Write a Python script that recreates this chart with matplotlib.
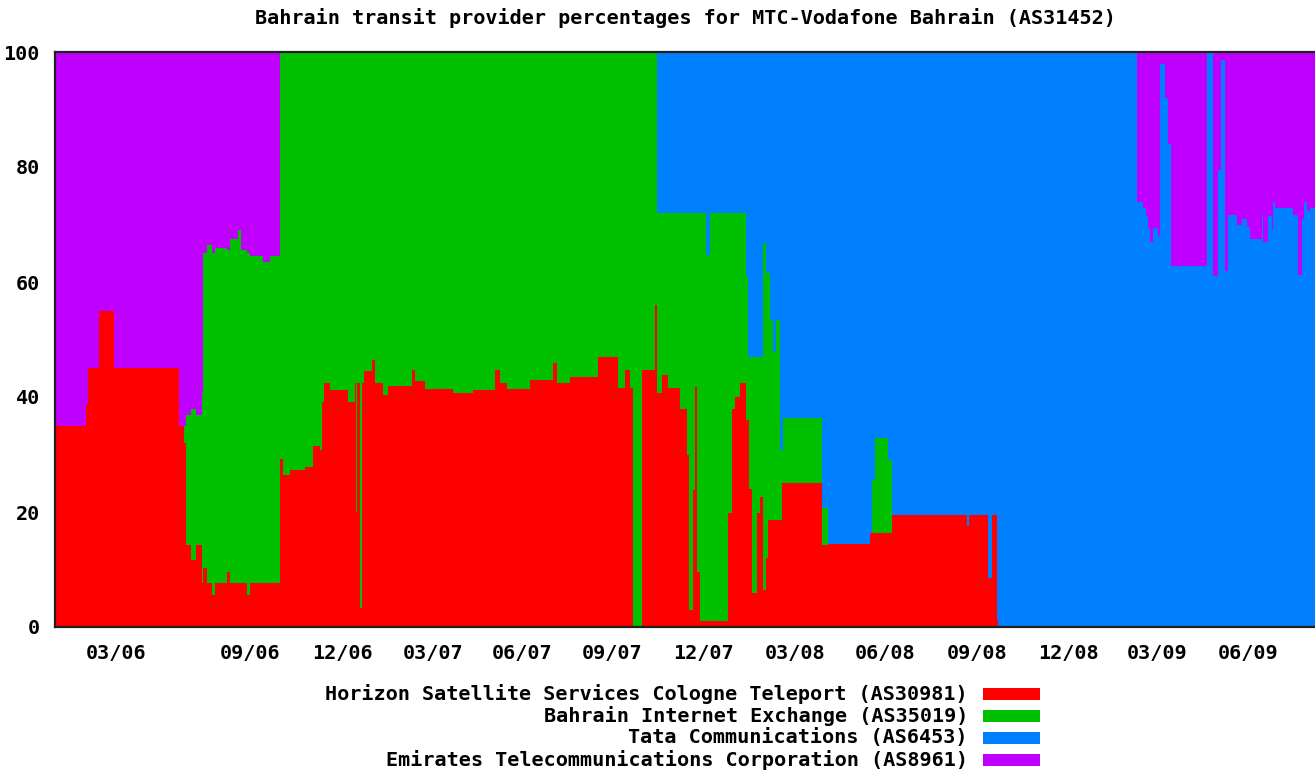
import numpy as np
import matplotlib
matplotlib.use("Agg")
import matplotlib.pyplot as plt
from matplotlib.patches import Rectangle

# start of each step, in days since the left edge of the axis
day = [0, 31, 33, 44, 59, 124, 129, 131, 136, 141,
       147, 148, 152, 157, 160, 172, 175, 183, 186, 192,
       195, 208, 215, 225, 228, 235, 250, 258, 265, 267,
       269, 275, 293, 300, 301, 302, 305, 307, 309, 317,
       320, 328, 333, 357, 360, 370, 398, 418, 440, 445,
       452, 475, 498, 502, 515, 543, 563, 570, 575, 578,
       587, 600, 602, 607, 613, 625, 632, 634, 638, 640,
       642, 645, 651, 655, 673, 677, 680, 685, 691, 693,
       694, 697, 702, 705, 708, 711, 713, 715, 718, 721,
       725, 727, 728, 767, 773, 815, 817, 820, 833, 837,
       912, 914, 933, 937, 942, 943, 1082, 1088, 1091, 1093,
       1095, 1098, 1103, 1105, 1110, 1113, 1116, 1152, 1158, 1163,
       1166, 1170, 1173, 1182, 1187, 1192, 1195, 1207, 1208, 1213,
       1217, 1218, 1220, 1238, 1243, 1247, 1249, 1252, 1255]
day_end = 1260

horizon = [35, 38.8, 45, 55, 45, 35, 32, 14.3, 11.7, 14.3,
           7.6, 10.2, 7.6, 5.6, 7.6, 9.6, 7.6, 7.6, 7.6, 5.6,
           7.6, 7.6, 7.6, 29.2, 26.5, 27.3, 27.9, 31.4, 30.8, 39.2,
           42.4, 41.2, 39.2, 42.4, 20, 42.4, 3.3, 42.4, 44.5, 46.4,
           42.4, 40.3, 42, 44.7, 42.8, 41.4, 40.7, 41.2, 44.7, 42.4,
           41.4, 43, 46, 42.4, 43.5, 47, 41.5, 44.7, 41.5, 0,
           44.7, 56, 40.7, 43.8, 41.5, 38, 30, 3, 23.8, 41.7,
           9.6, 1, 1, 1, 19.8, 38, 40, 42.4, 36, 36,
           24, 6, 19.8, 22.6, 6.4, 12, 18.6, 18.6, 18.6, 18.6,
           18.6, 25, 25, 14.3, 14.4, 16.3, 16.3, 16.3, 16.3, 19.5,
           17.6, 19.5, 8.5, 19.5, 1.2, 0, 0, 0, 0, 0,
           0, 0, 0, 0, 0, 0, 0, 0, 0, 0,
           0, 0, 0, 0, 0, 0, 0, 0, 0, 0,
           0, 0, 0, 0, 0, 0, 0, 0, 0]

bix = [0, 0, 0, 0, 0, 0, 3, 22.5, 26.3, 22.5,
       33.1, 54.8, 58.9, 59.4, 58.4, 55.9, 59.9, 61.4, 57.9, 59.4,
       56.9, 55.9, 56.9, 70.8, 73.5, 72.7, 72.1, 68.6, 69.2, 60.8,
       57.6, 58.8, 60.8, 57.6, 80, 57.6, 96.7, 57.6, 55.5, 53.6,
       57.6, 59.7, 58, 55.3, 57.2, 58.6, 59.3, 58.8, 55.3, 57.6,
       58.6, 57, 54, 57.6, 56.5, 53, 58.5, 55.3, 58.5, 100,
       55.3, 44, 31.3, 28.2, 30.5, 34, 42, 69, 48.2, 30.3,
       62.4, 71, 63.7, 71, 52.2, 34, 32, 29.6, 25, 11,
       23, 41, 27.2, 24.4, 60.3, 49.5, 42.9, 34.8, 29.3, 34.8,
       12.2, 5.8, 11.3, 6.4, 0, 0, 9.2, 16.5, 12.7, 0,
       0, 0, 0, 0, 0, 0, 0, 0, 0, 0,
       0, 0, 0, 0, 0, 0, 0, 0, 0, 0,
       0, 0, 0, 0, 0, 0, 0, 0, 0, 0,
       0, 0, 0, 0, 0, 0, 0, 0, 0]

tata = [0, 0, 0, 0, 0, 0, 0, 0, 0, 0,
        0, 0, 0, 0, 0, 0, 0, 0, 0, 0,
        0, 0, 0, 0, 0, 0, 0, 0, 0, 0,
        0, 0, 0, 0, 0, 0, 0, 0, 0, 0,
        0, 0, 0, 0, 0, 0, 0, 0, 0, 0,
        0, 0, 0, 0, 0, 0, 0, 0, 0, 0,
        0, 0, 28, 28, 28, 28, 28, 28, 28, 28,
        28, 28, 35.3, 28, 28, 28, 28, 28, 39, 53,
        53, 53, 53, 53, 33.3, 38.5, 38.5, 46.6, 52.1, 46.6,
        69.2, 69.2, 63.7, 79.3, 85.6, 83.7, 74.5, 67.2, 71, 80.5,
        82.4, 80.5, 91.5, 80.5, 98.8, 100, 74, 72.8, 71.4, 69.4,
        67, 69.4, 68, 98, 92, 84, 62.7, 100, 61, 79.5,
        98.6, 62, 71.7, 70, 71, 69.6, 67.5, 71.7, 67, 71.4,
        69, 74, 72.8, 71.7, 61.2, 71, 74, 72.3, 72.8]

emirates = [65, 61.2, 55, 45, 55, 65, 65, 63.2, 62, 63.2,
            59.3, 35, 33.5, 35, 34, 34.5, 32.5, 31, 34.5, 35,
            35.5, 36.5, 35.5, 0, 0, 0, 0, 0, 0, 0,
            0, 0, 0, 0, 0, 0, 0, 0, 0, 0,
            0, 0, 0, 0, 0, 0, 0, 0, 0, 0,
            0, 0, 0, 0, 0, 0, 0, 0, 0, 0,
            0, 0, 0, 0, 0, 0, 0, 0, 0, 0,
            0, 0, 0, 0, 0, 0, 0, 0, 0, 0,
            0, 0, 0, 0, 0, 0, 0, 0, 0, 0,
            0, 0, 0, 0, 0, 0, 0, 0, 0, 0,
            0, 0, 0, 0, 0, 0, 26, 27.2, 28.6, 30.6,
            33, 30.6, 32, 2, 8, 16, 37.3, 0, 39, 20.5,
            1.4, 38, 28.3, 30, 29, 30.4, 32.5, 28.3, 33, 28.6,
            31, 26, 27.2, 28.3, 38.8, 29, 26, 27.7, 27.2]

providers = ["Horizon Satellite Services Cologne Teleport (AS30981)",
             "Bahrain Internet Exchange (AS35019)",
             "Tata Communications (AS6453)",
             "Emirates Telecommunications Corporation (AS8961)"]
colors = ["#ff0000", "#00c000", "#0080ff", "#c000ff"]

tick_days = [61, 195, 287, 378, 467, 557, 648, 740, 830, 922, 1013, 1102, 1193]
tick_labels = ["03/06", "09/06", "12/06", "03/07", "06/07", "09/07", "12/07",
               "03/08", "06/08", "09/08", "12/08", "03/09", "06/09"]

font = dict(family="DejaVu Sans Mono", weight="bold", size=14.5)

fig = plt.figure(figsize=(13.15, 7.73), dpi=100)
ax = fig.add_axes([55 / 1315, 146 / 773, 1260 / 1315, 575 / 773])

edges = np.array(day + [day_end])
base = np.zeros(len(day))
for vals, c in zip([horizon, bix, tata, emirates], colors):
    top = base + np.array(vals)
    ax.stairs(top, edges, baseline=base, fill=True, color=c, lw=0, antialiased=False)
    base = top

ax.set_xlim(0, day_end)
ax.set_ylim(0, 100)
ax.set_yticks(range(0, 101, 20))
ax.set_xticks(tick_days)
ax.set_xticklabels(tick_labels, fontdict=font)
ax.set_yticklabels([str(v) for v in range(0, 101, 20)], fontdict=font)
ax.tick_params(length=0)
ax.tick_params(axis="y", pad=11)
ax.tick_params(axis="x", pad=12)
ax.spines["right"].set_visible(False)
for s in ["left", "top", "bottom"]:
    ax.spines[s].set_linewidth(1.6)
    ax.spines[s].set_color("#202020")

fig.text(685 / 1315, 1 - 18 / 773,
         "Bahrain transit provider percentages for MTC-Vodafone Bahrain (AS31452)",
         ha="center", va="center", **font)

# legend: right-aligned labels with colour boxes on the right
for i, (name, c) in enumerate(zip(providers, colors)):
    yc = 694 + 22 * i
    fig.text(968 / 1315, 1 - yc / 773, name, ha="right", va="center", **font)
    fig.patches.append(Rectangle((983 / 1315, 1 - (yc + 6) / 773), 57 / 1315, 12 / 773,
                                 transform=fig.transFigure, color=c, lw=0))

fig.savefig("out.png", dpi=100)
